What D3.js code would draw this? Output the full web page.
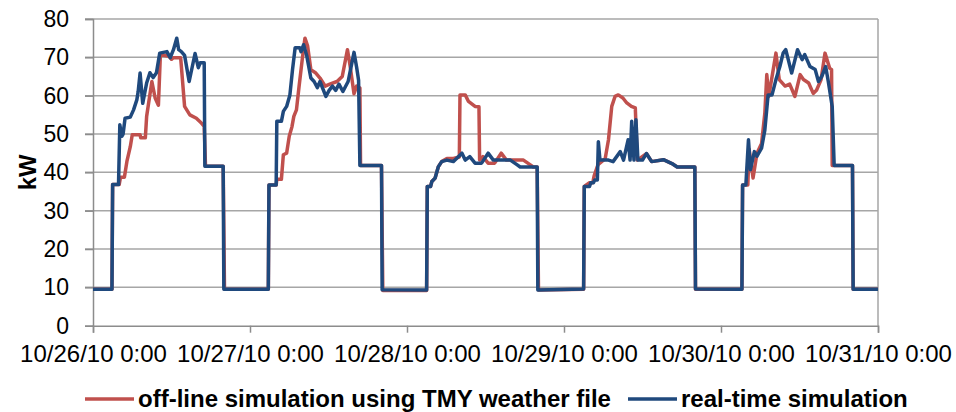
<!DOCTYPE html>
<html>
<head>
<meta charset="utf-8">
<script src="https://cdn.jsdelivr.net/npm/d3@7"></script>
<style>
  body { margin: 0; background: #ffffff; }
  text { font-family: "Liberation Sans", Arial, sans-serif; fill: #000; }
</style>
</head>
<body>
<div id="chart"></div>
<script>
"use strict";

// hours since 10/26/10 0:00, kW
const offlineTMY = [
    [0, 9.5], [2.9, 9.5], [3.0, 36.8], [4.0, 36.8], [4.2, 38.7], [4.8, 38.7], [5.2, 43], [5.7, 46.7], [6.0, 49.8],
    [7.2, 49.8], [7.3, 49], [8.0, 49], [8.2, 54.6], [8.5, 58], [9.0, 63.7], [9.5, 59.4], [10.0, 57.5], [10.3, 70.7],
    [11.0, 70.5], [11.6, 70.3], [12.0, 69.5], [12.3, 69.9], [13.4, 69.9], [14.0, 57.2], [14.8, 55], [15.8, 54.1],
    [16.6, 52.8], [17.0, 52], [17.2, 41.6], [19.9, 41.6], [20.1, 9.5],
    [26.8, 9.5], [26.9, 36.7], [28.0, 36.7], [28.1, 38.2], [28.8, 38.2], [29.1, 44.6], [29.6, 45], [30.0, 49.4],
    [30.4, 51.8], [30.7, 54.6], [31.1, 56.3], [31.5, 62.4], [32.1, 71.1], [32.4, 75], [32.8, 73], [33.3, 66.8],
    [34.0, 66], [34.7, 64.6], [35.5, 62.5], [36.2, 63], [37.3, 63.7], [38.1, 65], [38.9, 72], [39.3, 67.8],
    [39.9, 60.5], [40.3, 62.5], [40.8, 62], [40.9, 41.8], [44.1, 41.8], [44.3, 9.2],
    [51.0, 9.2], [51.1, 36.3], [51.6, 36.3], [51.8, 37.6], [52.3, 38.5], [52.8, 41.5], [53.3, 42.8], [54.1, 43.6],
    [55.1, 43.6], [56.0, 44], [56.1, 60.2], [56.9, 60.2], [57.4, 58.5], [58.4, 57.2], [59.0, 57.1], [59.1, 43.2],
    [59.6, 44.1], [60.4, 42.4], [61.4, 42.4], [62.4, 45], [63.2, 43.2], [65.8, 43.2], [66.8, 42], [67.3, 41.4],
    [67.9, 41.4], [68.1, 9.3],
    [75.0, 9.5], [75.1, 36.3], [75.9, 37.3], [76.4, 37.3], [76.6, 39], [77.2, 42], [78.3, 43.6], [78.8, 48.5],
    [79.3, 57.2], [79.8, 59.8], [80.3, 60.2], [81.0, 59.4], [81.6, 58.1], [82.3, 57.2], [82.9, 56.8], [83.2, 43.2],
    [84.6, 44.9], [85.4, 42.8], [87.2, 43.3], [88.5, 42.3], [89.3, 41.4], [92.0, 41.4], [92.1, 9.5],
    [99.2, 9.5], [99.3, 36.7], [100.1, 36.7], [100.3, 46], [100.9, 38.5], [101.5, 45], [102.2, 47.5], [102.7, 55.4],
    [103.0, 65.5], [103.3, 59.8], [104.4, 71.1], [104.9, 64.2], [105.8, 62.5], [106.5, 63], [107.3, 59.8],
    [108.1, 65.5], [108.6, 64.2], [109.4, 63.3], [110.1, 60.6], [110.6, 61.4], [111.3, 64.2], [111.9, 71.1],
    [112.6, 67.2], [112.9, 66.8], [113.0, 41.8], [116.1, 41.8], [116.2, 9.5], [120, 9.5]
];

const realTime = [
    [0, 9.5], [2.9, 9.5], [3.0, 36.8], [3.9, 36.8], [4.1, 52.4], [4.4, 49.4], [4.6, 50], [4.9, 54.1], [5.7, 54.4],
    [6.2, 56.3], [6.7, 58.9], [6.9, 61], [7.2, 65.9], [7.6, 58], [8.2, 63.3], [8.7, 66], [9.2, 64.7], [9.7, 66],
    [10.2, 71.1], [11.3, 71.5], [11.8, 69.9], [12.3, 72], [12.8, 75], [13.1, 72], [13.5, 71.5], [14.0, 70.5],
    [14.7, 63.7], [15.6, 71], [16.1, 67.3], [16.4, 68.6], [17.0, 68.6], [17.1, 41.6], [19.9, 41.6], [20.0, 9.5],
    [26.8, 9.5], [26.9, 36.7], [28.0, 36.7], [28.1, 53.3], [28.8, 53.3], [29.1, 55.9], [29.6, 57.2], [30.1, 60.2],
    [30.5, 66.8], [30.9, 72.5], [31.6, 72.5], [31.8, 71.5], [32.2, 73.3], [32.7, 70.2], [33.3, 64.6], [33.8, 63.7],
    [34.3, 62.1], [34.7, 63.7], [35.6, 59.8], [36.1, 61.4], [36.6, 62.5], [37.1, 61.4], [37.6, 63], [38.2, 61.1],
    [39.0, 63.7], [39.9, 71.3], [40.3, 67.4], [40.6, 64], [40.8, 41.8], [44.1, 41.8], [44.2, 9.4],
    [51.0, 9.3], [51.1, 36.3], [51.6, 36.3], [51.8, 37.6], [52.3, 38.5], [52.8, 41.5], [53.3, 42.8], [54.1, 43.2],
    [55.1, 42.8], [56.4, 45], [56.9, 43.2], [57.6, 44.1], [58.4, 42.4], [59.4, 42.4], [60.4, 45], [61.2, 43.2],
    [63.8, 43.2], [64.8, 42], [65.3, 41.4], [67.9, 41.4], [68.0, 9.3],
    [75.0, 9.6], [75.1, 36.3], [75.9, 36.3], [76.1, 37.3], [76.5, 37.3], [76.7, 38], [77.1, 38], [77.25, 48],
    [77.5, 43.2], [78.8, 43.2], [79.5, 42.8], [80.6, 45.4], [81.1, 43.2], [81.8, 48.5], [82.1, 43.2], [82.35, 53.3],
    [82.7, 43.2], [83.0, 53.7], [83.3, 43.2], [84.0, 43.2], [84.6, 44.9], [85.4, 42.8], [87.2, 43.3], [88.5, 42.3],
    [89.3, 41.4], [92.0, 41.4], [92.1, 9.6],
    [99.2, 9.5], [99.3, 36.7], [99.8, 36.7], [100.2, 48.5], [100.5, 40.7], [101.1, 45.4], [101.5, 44.2],
    [102.2, 46.3], [102.7, 51], [103.2, 60.2], [103.8, 60.2], [104.4, 64.2], [105.0, 67.6], [105.5, 71.1],
    [105.9, 72], [106.8, 65.9], [107.7, 72], [108.4, 69.4], [108.8, 70.7], [109.6, 67.6], [110.4, 66.8],
    [110.9, 63.7], [111.4, 65], [112.0, 67.6], [112.4, 63.7], [113.0, 57.2], [113.3, 41.8], [116.1, 41.8],
    [116.2, 9.5], [120, 9.5]
];

const yTicks = [0, 10, 20, 30, 40, 50, 60, 70, 80];
const dayTicks = [0, 24, 48, 72, 96, 120];
const seriesNames = ["off-line simulation using TMY weather file", "real-time simulation"];
const seriesColors = ["#c0504d", "#1f497d"];

const width = 956, height = 412;
const margin = { top: 19, right: 78, bottom: 87, left: 93 };
const startDate = new Date(2010, 9, 26, 0, 0);
const toDate = (h) => new Date(startDate.getTime() + h * 3600 * 1000);

const svg = d3.select("#chart").append("svg")
    .attr("width", width)
    .attr("height", height);

const x = d3.scaleTime()
    .domain([toDate(0), toDate(120)])
    .range([margin.left, width - margin.right]);

const y = d3.scaleLinear()
    .domain([0, 80])
    .range([height - margin.bottom + 0.7, margin.top]);

// gridlines
svg.append("g")
    .selectAll("line")
    .data(yTicks.filter(d => d > 0))
    .join("line")
    .attr("x1", margin.left - 8)
    .attr("x2", width - margin.right)
    .attr("y1", d => y(d))
    .attr("y2", d => y(d))
    .attr("stroke", "#a6a6a6")
    .attr("stroke-width", 1.5);

// right border
svg.append("line")
    .attr("x1", width - margin.right).attr("x2", width - margin.right)
    .attr("y1", y(80)).attr("y2", y(0))
    .attr("stroke", "#a6a6a6").attr("stroke-width", 1.5);

// y axis
const yAxis = svg.append("g")
    .attr("transform", `translate(${margin.left},0)`)
    .call(d3.axisLeft(y).tickValues(yTicks).tickSize(8).tickPadding(16));
yAxis.select(".domain").attr("stroke", "#8c8c8c").attr("stroke-width", 1.5);
yAxis.selectAll(".tick line").attr("stroke", "#8c8c8c").attr("stroke-width", 1.5);
yAxis.selectAll(".tick text")
    .attr("font-size", 23)
    .attr("font-family", "Liberation Sans, Arial, sans-serif")
    .attr("fill", "#000");

// x axis
const fmt = d3.timeFormat("%m/%d/%y %-H:%M");
const xAxis = svg.append("g")
    .attr("transform", `translate(0,${y(0)})`)
    .call(d3.axisBottom(x).tickValues(dayTicks.map(toDate)).tickFormat(fmt).tickSize(7).tickPadding(12));
xAxis.select(".domain").attr("stroke", "#8c8c8c").attr("stroke-width", 1.5);
xAxis.selectAll(".tick line").attr("stroke", "#8c8c8c").attr("stroke-width", 1.5);
xAxis.selectAll(".tick text")
    .attr("font-size", 24)
    .attr("font-family", "Liberation Sans, Arial, sans-serif")
    .attr("fill", "#000");

// y title
svg.append("text")
    .attr("transform", `translate(36,${(y(0) + y(80)) / 2}) rotate(-90)`)
    .attr("text-anchor", "middle")
    .attr("font-size", 24)
    .attr("font-weight", "bold")
    .text("kW");

// lines
const line = d3.line()
    .x(d => x(toDate(d[0])))
    .y(d => y(d[1]));

[offlineTMY, realTime].forEach((data, i) => {
    svg.append("path")
        .datum(data)
        .attr("fill", "none")
        .attr("stroke", seriesColors[i])
        .attr("stroke-width", 3.5)
        .attr("stroke-linejoin", "round")
        .attr("d", line);
});

// legend
const legendX = [85, 628];
const legend = svg.append("g");
seriesNames.forEach((name, i) => {
    legend.append("line")
        .attr("x1", legendX[i]).attr("x2", legendX[i] + 49)
        .attr("y1", 399).attr("y2", 399)
        .attr("stroke", seriesColors[i])
        .attr("stroke-width", 3.5);
    legend.append("text")
        .attr("x", legendX[i] + 53)
        .attr("y", 407)
        .attr("font-size", 24)
        .attr("font-weight", "bold")
        .text(name);
});
</script>
</body>
</html>
